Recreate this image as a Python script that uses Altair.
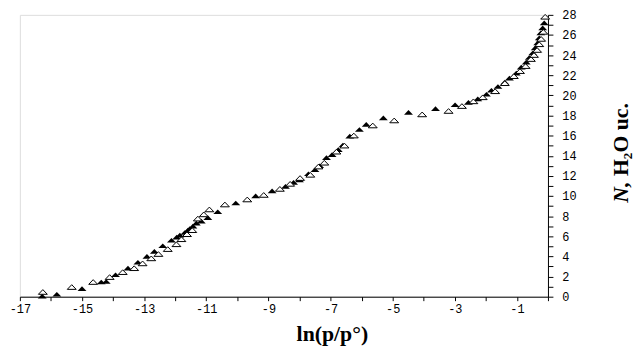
import altair as alt
import pandas as pd

# Filled triangles (series A)
fill_x = [-16.28, -15.81, -15.00, -14.38, -14.22, -13.92, -13.52, -13.20, -12.91, -12.67,
          -12.40, -12.12, -11.95, -11.85, -11.69, -11.59, -11.53, -11.43, -11.32, -11.16,
          -10.95, -10.63, -10.05, -9.41, -8.88, -8.45, -8.19, -8.00, -7.71, -7.50,
          -7.35, -7.13, -6.95, -6.75, -6.60, -6.38, -6.07, -5.85, -5.30, -4.49,
          -3.62, -2.99, -2.56, -2.26, -1.98, -1.82, -1.61, -1.39, -1.24, -1.02,
          -0.86, -0.70, -0.60, -0.49, -0.41, -0.33, -0.28, -0.23, -0.17, -0.12]
fill_y = [0.05, 0.23, 0.79, 1.45, 1.50, 2.17, 2.82, 3.41, 4.00, 4.50,
          5.05, 5.60, 5.90, 6.10, 6.37, 6.60, 6.75, 7.00, 7.30, 7.50,
          7.84, 8.43, 9.30, 10.00, 10.50, 10.95, 11.35, 11.60, 12.20, 12.60,
          13.00, 13.80, 14.10, 14.60, 15.06, 15.94, 16.60, 17.10, 17.75, 18.30,
          18.67, 19.06, 19.30, 19.65, 20.10, 20.50, 20.87, 21.30, 21.70, 22.20,
          22.80, 23.30, 23.75, 24.20, 24.70, 25.20, 25.70, 26.20, 26.70, 27.20]

# Open triangles (series B)
open_x = [-16.26, -15.33, -14.64, -14.11, -13.69, -13.32, -13.05, -12.77, -12.54, -12.24,
          -11.96, -11.80, -11.62, -11.45, -11.27, -11.08, -10.90, -10.40, -9.68, -9.15,
          -8.63, -8.30, -7.98, -7.65, -7.39, -7.20, -6.81, -6.55, -6.25, -5.64,
          -4.95, -4.05, -3.20, -2.77, -2.40, -2.10, -1.70, -1.39, -1.10, -0.90,
          -0.72, -0.55, -0.45, -0.35, -0.28, -0.22, -0.15, -0.09]
open_y = [0.46, 0.95, 1.45, 1.94, 2.43, 2.82, 3.30, 3.80, 4.23, 4.72,
          5.20, 5.70, 6.20, 6.60, 7.75, 8.17, 8.66, 9.15, 9.65, 10.10,
          10.70, 11.20, 11.78, 12.10, 12.92, 13.30, 14.40, 15.00, 16.00, 17.00,
          17.50, 18.10, 18.44, 18.93, 19.40, 19.80, 20.40, 21.20, 21.90, 22.40,
          22.90, 23.60, 24.00, 24.50, 25.07, 25.60, 26.30, 27.80]

x_ticks = list(range(-17, 1))
y_ticks = list(range(0, 29))

fill_df = pd.DataFrame({"x": fill_x, "y": fill_y})
open_df = pd.DataFrame({"x": open_x, "y": open_y})

tri = "M-1,0.5L0,-0.55L1,0.5Z"

xs = alt.Scale(domain=[-17, 0], nice=False, zero=False)
ys = alt.Scale(domain=[0, 28], nice=False, zero=False)

xaxis = alt.Axis(values=x_ticks, tickCount=100, title=None, grid=False,
                 labelExpr="abs(datum.value) % 2 == 1 ? '' + datum.value : ''",
                 labelFont="Liberation Mono", labelFontSize=12, labelColor="black",
                 labelFlush=False, labelOverlap=False, tickSize=4, tickColor="black",
                 tickWidth=1, domainColor="black", labelPadding=3)
yaxis = alt.Axis(values=y_ticks, tickCount=100, title=None, grid=False, orient="right",
                 labelExpr="datum.value % 2 == 0 ? '' + datum.value : ''",
                 labelFont="Liberation Mono", labelFontSize=12, labelColor="black",
                 labelFlush=False, labelOverlap=False, tickSize=5, tickColor="black",
                 tickWidth=1, domainColor="black", labelPadding=9, labelAlign="left")

filled = alt.Chart(fill_df).mark_point(shape=tri, size=81, filled=True, color="black",
                                       opacity=1).encode(
    x=alt.X("x:Q", scale=xs, axis=xaxis),
    y=alt.Y("y:Q", scale=ys, axis=yaxis),
)
opened = alt.Chart(open_df).mark_point(shape=tri, size=81, filled=True, fill="white",
                                       stroke="black", strokeWidth=1, opacity=1).encode(
    x=alt.X("x:Q", scale=xs),
    y=alt.Y("y:Q", scale=ys),
)

one = pd.DataFrame({"a": [0]})
xtitle = alt.Chart(one).mark_text(text="ln(p/p°)", font="Liberation Serif", fontWeight="bold",
                                  fontSize=22, align="center", baseline="middle",
                                  color="black").encode(x=alt.value(316), y=alt.value(323))
ytitle_n = alt.Chart(one).mark_text(text="N,", font="Liberation Serif", fontWeight="bold",
                                    fontStyle="italic", fontSize=22, align="left",
                                    baseline="middle", angle=270,
                                    color="black").encode(x=alt.value(608), y=alt.value(190))
ytitle_h = alt.Chart(one).mark_text(text="H₂O uc.", font="Liberation Serif", fontWeight="bold",
                                    fontSize=22, align="left", baseline="middle", angle=270,
                                    color="black").encode(x=alt.value(608), y=alt.value(163))

chart = alt.layer(filled, opened, xtitle, ytitle_n, ytitle_h).properties(
    width=534, height=285,
    autosize=alt.AutoSizeParams(type="none"),
    padding={"left": 12, "top": 5, "right": 88, "bottom": 55},
).configure_view(stroke=None).configure(background="white")

chart.save("out.html", embed_options={"renderer": "svg", "actions": False})
